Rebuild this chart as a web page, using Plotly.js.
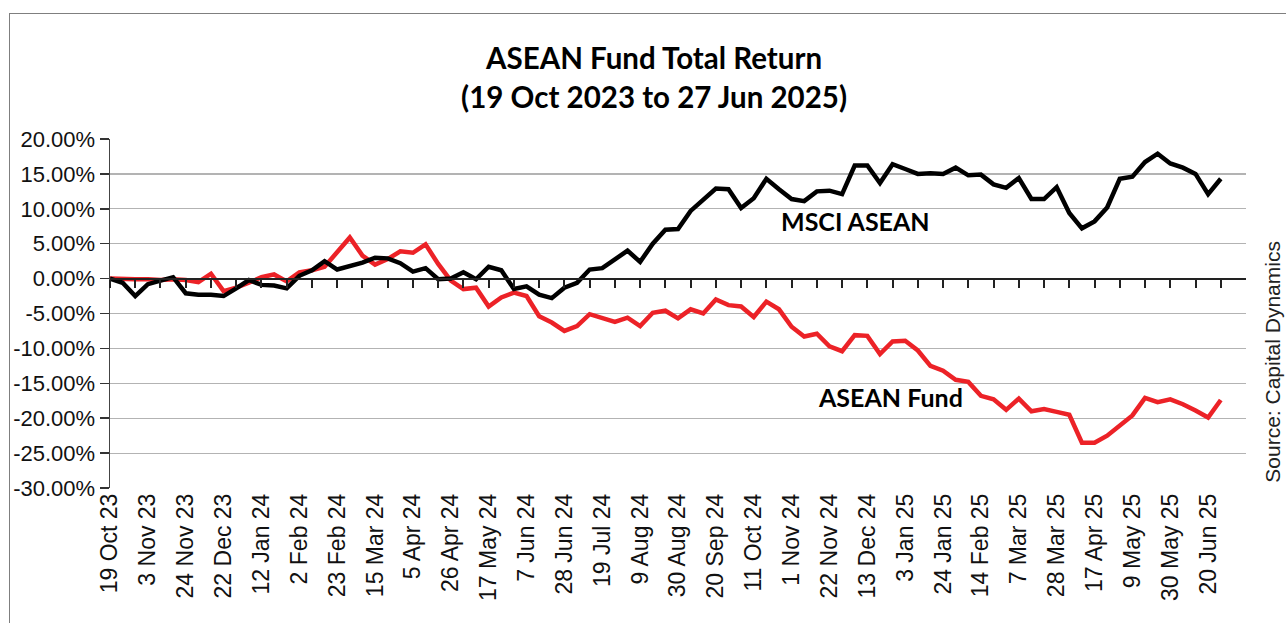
<!DOCTYPE html>
<html><head><meta charset="utf-8">
<script src="https://cdn.plot.ly/plotly-3.0.1.min.js"></script>
<style>
html,body{margin:0;padding:0;background:#fff;}
#frame{position:absolute;left:9px;top:13px;width:1400px;height:700px;border-left:1px solid #7f7f7f;border-top:1px solid #7f7f7f;}
#chart{position:absolute;left:0;top:0;width:1286px;height:623px;}
</style></head><body>
<div id="frame"></div><div id="chart"></div>
<script>
const dates = [
 "19 Oct 23","20 Oct 23","27 Oct 23","3 Nov 23","10 Nov 23","17 Nov 23","24 Nov 23","1 Dec 23","8 Dec 23",
 "22 Dec 23","29 Dec 23","5 Jan 24","12 Jan 24","19 Jan 24","26 Jan 24","2 Feb 24","9 Feb 24","16 Feb 24",
 "23 Feb 24","1 Mar 24","8 Mar 24","15 Mar 24","22 Mar 24","29 Mar 24","5 Apr 24","12 Apr 24","19 Apr 24",
 "26 Apr 24","3 May 24","10 May 24","17 May 24","24 May 24","31 May 24","7 Jun 24","14 Jun 24","21 Jun 24",
 "28 Jun 24","5 Jul 24","12 Jul 24","19 Jul 24","26 Jul 24","2 Aug 24","9 Aug 24","16 Aug 24","23 Aug 24",
 "30 Aug 24","6 Sep 24","13 Sep 24","20 Sep 24","27 Sep 24","4 Oct 24","11 Oct 24","18 Oct 24","25 Oct 24",
 "1 Nov 24","8 Nov 24","15 Nov 24","22 Nov 24","29 Nov 24","6 Dec 24","13 Dec 24","20 Dec 24","27 Dec 24",
 "3 Jan 25","10 Jan 25","17 Jan 25","24 Jan 25","31 Jan 25","7 Feb 25","14 Feb 25","21 Feb 25","28 Feb 25",
 "7 Mar 25","14 Mar 25","21 Mar 25","28 Mar 25","4 Apr 25","11 Apr 25","17 Apr 25","25 Apr 25","2 May 25",
 "9 May 25","16 May 25","23 May 25","30 May 25","6 Jun 25","13 Jun 25","20 Jun 25","27 Jun 25"
];

const msciAsean = [
 0.0,-0.6,-2.5,-0.8,-0.3,0.2,-2.1,-2.3,-2.3,
 -2.5,-1.4,-0.2,-0.9,-1.0,-1.4,0.4,1.2,2.5,
 1.3,1.8,2.3,3.0,2.9,2.2,1.0,1.5,-0.1,
 0.0,0.9,-0.1,1.7,1.2,-1.5,-1.1,-2.3,-2.8,
 -1.3,-0.6,1.3,1.5,2.8,4.0,2.4,5.0,7.0,
 7.1,9.7,11.4,12.9,12.8,10.1,11.5,14.3,12.8,
 11.4,11.1,12.5,12.6,12.1,16.2,16.2,13.7,16.4,
 15.7,15.0,15.1,15.0,15.9,14.8,14.9,13.5,13.0,
 14.4,11.4,11.4,13.1,9.4,7.2,8.2,10.2,14.3,
 14.6,16.7,17.9,16.5,15.9,15.0,12.1,14.3
];

const aseanFund = [
 0.0,-0.1,-0.1,-0.1,-0.2,-0.1,-0.2,-0.5,0.7,
 -1.8,-1.3,-0.6,0.2,0.6,-0.4,0.9,1.2,1.7,
 3.8,5.9,3.3,2.0,2.8,3.9,3.7,4.9,2.1,
 -0.3,-1.5,-1.3,-4.0,-2.7,-2.0,-2.5,-5.4,-6.3,
 -7.5,-6.8,-5.1,-5.6,-6.2,-5.6,-6.8,-4.9,-4.6,
 -5.7,-4.4,-5.0,-3.0,-3.8,-4.0,-5.5,-3.3,-4.4,
 -6.9,-8.3,-7.9,-9.7,-10.4,-8.1,-8.2,-10.8,-9.0,
 -8.9,-10.3,-12.5,-13.2,-14.5,-14.8,-16.8,-17.3,-18.8,
 -17.2,-19.0,-18.7,-19.1,-19.5,-23.5,-23.5,-22.5,-21.1,
 -19.6,-17.1,-17.7,-17.3,-18.0,-18.9,-19.9,-17.4
];

const xTickLabels = dates.filter((d, i) => i % 3 === 0);
const xMinorTicks = dates.filter((d, i) => i % 2 === 0);
const yTickVals = [-30,-25,-20,-15,-10,-5,0,5,10,15,20];
const yTickText = ["-30.00%","-25.00%","-20.00%","-15.00%","-10.00%","-5.00%","0.00%","5.00%","10.00%","15.00%","20.00%"];

const traces = [
 {x: dates, y: aseanFund, type:'scatter', mode:'lines', name:'ASEAN Fund',
  line:{color:'#EC2227', width:4.5}, xaxis:'x', yaxis:'y', hoverinfo:'skip'},
 {x: dates, y: msciAsean, type:'scatter', mode:'lines', name:'MSCI ASEAN',
  line:{color:'#000000', width:4.5}, xaxis:'x2', yaxis:'y', hoverinfo:'skip'}
];

const axisFont = {family:'Liberation Sans, Arial, sans-serif', size:22, color:'#111'};
const xFont = {family:'Liberation Sans, Arial, sans-serif', size:23, color:'#111'};

const layout = {
 width:1286, height:623,
 margin:{l:110, r:40, t:139, b:134.5, pad:0},
 paper_bgcolor:'rgba(0,0,0,0)', plot_bgcolor:'rgba(0,0,0,0)',
 showlegend:false,
 font: axisFont,
 title:{text:'<b>ASEAN Fund Total Return<br>(19 Oct 2023 to 27 Jun 2025)</b>',
  font:{family:'Lato, sans-serif', size:29.5, color:'#000'},
  x:0.5086, xanchor:'center', xref:'container', y:0.889, yanchor:'middle', yref:'container'},
 xaxis:{type:'category', range:[0,90], tickmode:'array', tickvals:xTickLabels, ticktext:xTickLabels,
  tickangle:-90, ticks:'', showline:false, showgrid:false, zeroline:false, tickfont:xFont, fixedrange:true},
 xaxis2:{type:'category', overlaying:'x', anchor:'free', position:0.6, side:'bottom', range:[0,90],
  tickmode:'array', tickvals:xMinorTicks, ticks:'outside', ticklen:8, tickwidth:2, tickcolor:'#222',
  showline:true, linecolor:'#222', linewidth:2, showticklabels:false, showgrid:false, zeroline:false},
 yaxis:{range:[-30,20], tickmode:'array', tickvals:yTickVals, ticktext:yTickText, ticks:'outside',
  ticklen:9, tickwidth:1.5, tickcolor:'#333', showline:true, linecolor:'#444', linewidth:1.5,
  showgrid:true, gridcolor:'#b3b3b3', gridwidth:1.2, zeroline:false, tickfont:axisFont},
 annotations:[
  {text:'<b>MSCI ASEAN</b>', x:59.1, y:8.2, xref:'x', yref:'y', showarrow:false,
   font:{family:'Lato, sans-serif', size:25, color:'#000'}, xanchor:'center', yanchor:'middle'},
  {text:'<b>ASEAN Fund</b>', x:61.8, y:-17.0, xref:'x', yref:'y', showarrow:false,
   font:{family:'Lato, sans-serif', size:25, color:'#000'}, xanchor:'center', yanchor:'middle'},
  {text:'Source: Capital Dynamics', x:1.0238, y:0.362, xref:'paper', yref:'paper', showarrow:false,
   textangle:-90, font:{family:'Liberation Sans, Arial, sans-serif', size:21, color:'#222'},
   xanchor:'center', yanchor:'middle'}
 ]
};

Plotly.newPlot('chart', traces, layout, {staticPlot:true, displayModeBar:false});
</script></body></html>
